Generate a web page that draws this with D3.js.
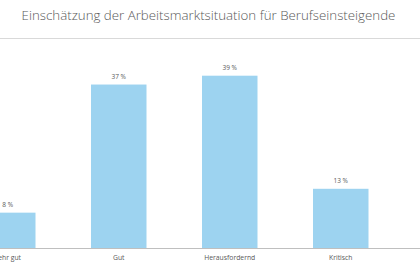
<!DOCTYPE html>
<html>
<head>
<meta charset="utf-8">
<script src="https://cdn.jsdelivr.net/npm/d3@7"></script>
<style>
  body { margin: 0; background: #fff; }
  svg text { font-family: "Open Sans", sans-serif; fill: #595959; }
</style>
</head>
<body>
<div id="chart-area"></div>
<script>
const title = "Einschätzung der Arbeitsmarktsituation für Berufseinsteigende";
const categories = ["Sehr gut", "Gut", "Herausfordernd", "Kritisch"];
const values = [8, 37, 39, 13.4];

const drawChart = () => {
  const chartSize = { width: 420, height: 280 };
  const baseline = 248;

  const x = d3
    .scaleBand()
    .domain(categories)
    .range([-47.75, 396.25])
    .paddingInner(0.5)
    .paddingOuter(0.25);

  const y = d3
    .scaleLinear()
    .domain([0, 39])
    .range([baseline, 75.7]);

  const svg = d3
    .select("#chart-area")
    .append("svg")
    .attr("width", chartSize.width)
    .attr("height", chartSize.height);

  svg.append("text")
    .attr("x", 208.5)
    .attr("y", 20)
    .attr("text-anchor", "middle")
    .attr("font-size", 13.3)
    .attr("font-weight", 300)
    .text(title);

  svg.append("line")
    .attr("x1", 0)
    .attr("x2", chartSize.width)
    .attr("y1", 38.5)
    .attr("y2", 38.5)
    .attr("stroke", "#d9d9d9");

  svg.selectAll("rect")
    .data(values)
    .enter()
    .append("rect")
    .attr("x", (d, i) => x(categories[i]))
    .attr("y", d => y(d))
    .attr("width", x.bandwidth())
    .attr("height", d => y(0) - y(d))
    .attr("fill", "#9dd3f0");

  svg.selectAll(".value-label")
    .data(values)
    .enter()
    .append("text")
    .attr("class", "value-label")
    .attr("x", (d, i) => x(categories[i]) + x.bandwidth() / 2)
    .attr("y", d => y(d) - 6)
    .attr("text-anchor", "middle")
    .attr("font-size", 6.5)
    .text(d => d3.format(".0f")(d) + " %");

  const xAxis = d3.axisBottom(x).tickSize(0).tickPadding(7);
  const axis = svg.append("g")
    .attr("transform", `translate(0, ${baseline})`)
    .call(xAxis);
  axis.select(".domain")
    .attr("d", `M0,0.5H${chartSize.width}`)
    .attr("stroke", "#bfbfbf");
  axis.selectAll("text")
    .attr("font-size", 6.8)
    .attr("fill", "#595959");
};

window.onload = drawChart;
</script>
</body>
</html>
